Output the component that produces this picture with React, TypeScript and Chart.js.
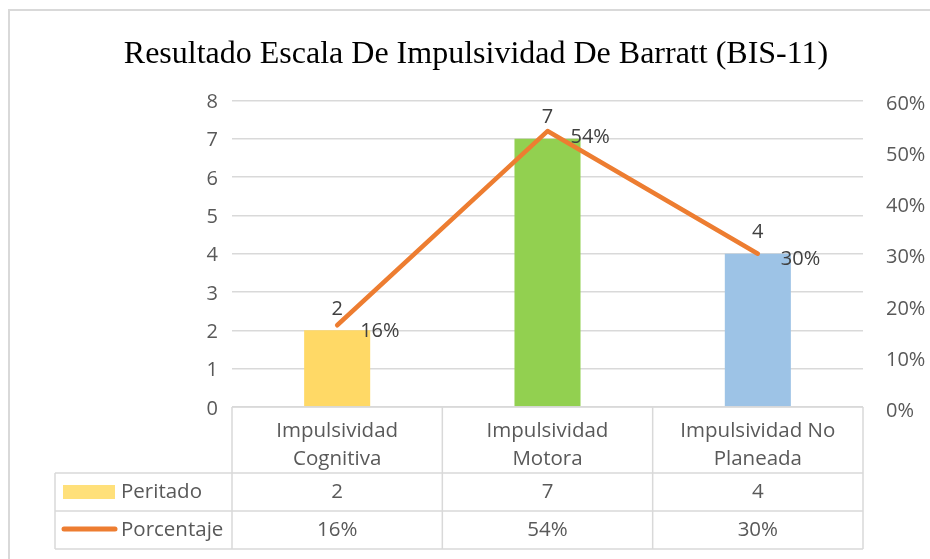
import React, { useEffect, useRef } from "react";
import { Chart, registerables } from "chart.js";

Chart.register(...registerables);

const TITLE = "Resultado Escala De Impulsividad De Barratt (BIS-11)";
const categories: string[][] = [
  ["Impulsividad", "Cognitiva"],
  ["Impulsividad", "Motora"],
  ["Impulsividad No", "Planeada"],
];
const peritadoLabel = "Peritado";
const porcentajeLabel = "Porcentaje";
const peritado = [2, 7, 4];
const porcentaje = [0.16, 0.54, 0.3];
const barColors = ["#FFD966", "#92D050", "#9DC3E6"];
const lineColor = "#ED7D31";

const FONT = "'Open Sans', 'Noto Sans', sans-serif";
const GRID = "#D9D9D9";
const TICK = "#595959";
const LABEL = "#404040";

const pct = (v: number) => Math.round(v * 100) + "%";

const framePlugin = {
  id: "frame",
  beforeDraw(chart: any) {
    const ctx = chart.ctx;
    ctx.save();
    ctx.fillStyle = "#ffffff";
    ctx.fillRect(0, 0, chart.width, chart.height);
    ctx.strokeStyle = GRID;
    ctx.lineWidth = 2;
    ctx.strokeRect(9, 10, chart.width + 20, chart.height + 20);
    ctx.restore();
  },
};

const labelPlugin = {
  id: "valueLabels",
  afterDatasetsDraw(chart: any) {
    const ctx = chart.ctx;
    ctx.save();
    ctx.font = `20px ${FONT}`;
    ctx.fillStyle = LABEL;
    ctx.textBaseline = "middle";
    const barMeta = chart.getDatasetMeta(0);
    barMeta.data.forEach((el: any, i: number) => {
      ctx.textAlign = "center";
      ctx.fillText(String(peritado[i]), el.x, el.y - 21);
    });
    const lineMeta = chart.getDatasetMeta(1);
    lineMeta.data.forEach((el: any, i: number) => {
      ctx.textAlign = "left";
      ctx.fillText(pct(porcentaje[i]), el.x + 23, el.y + 6);
    });
    ctx.restore();
  },
};

const tablePlugin = {
  id: "dataTable",
  afterDraw(chart: any) {
    const ctx = chart.ctx;
    const area = chart.chartArea;
    const xs = chart.scales.x;
    const n = categories.length;
    const colW = (area.right - area.left) / n;
    const top = area.bottom;
    const headerBottom = top + 66;
    const row1Bottom = headerBottom + 38;
    const row2Bottom = row1Bottom + 38;
    const tableLeft = area.left - 177;

    ctx.save();
    ctx.strokeStyle = GRID;
    ctx.lineWidth = 1.5;
    ctx.beginPath();
    ctx.moveTo(area.left, top);
    ctx.lineTo(area.right, top);
    [headerBottom, row1Bottom, row2Bottom].forEach((y) => {
      ctx.moveTo(tableLeft, y);
      ctx.lineTo(area.right, y);
    });
    for (let i = 0; i <= n; i++) {
      const x = area.left + i * colW;
      ctx.moveTo(x, top);
      ctx.lineTo(x, row2Bottom);
    }
    ctx.moveTo(tableLeft, headerBottom);
    ctx.lineTo(tableLeft, row2Bottom);
    ctx.stroke();

    ctx.font = `20.5px ${FONT}`;
    ctx.fillStyle = TICK;
    ctx.textBaseline = "middle";
    ctx.textAlign = "center";
    categories.forEach((lines, i) => {
      const cx = xs.getPixelForValue(i);
      lines.forEach((t, j) => {
        ctx.fillText(t, cx, top + 24 + j * 28);
      });
      ctx.fillText(String(peritado[i]), cx, (headerBottom + row1Bottom) / 2);
      ctx.fillText(pct(porcentaje[i]), cx, (row1Bottom + row2Bottom) / 2);
    });

    const r1 = (headerBottom + row1Bottom) / 2;
    const r2 = (row1Bottom + row2Bottom) / 2;
    ctx.fillStyle = "#FFE07A";
    ctx.fillRect(tableLeft + 8, r1 - 7, 52, 14);
    ctx.strokeStyle = lineColor;
    ctx.lineWidth = 5;
    ctx.lineCap = "round";
    ctx.beginPath();
    ctx.moveTo(tableLeft + 9, r2 - 1);
    ctx.lineTo(tableLeft + 60, r2 - 1);
    ctx.stroke();

    ctx.fillStyle = TICK;
    ctx.textAlign = "left";
    ctx.fillText(peritadoLabel, tableLeft + 66, r1);
    ctx.fillText(porcentajeLabel, tableLeft + 66, r2);
    ctx.restore();
  },
};

export default function App() {
  const ref = useRef<HTMLCanvasElement | null>(null);
  useEffect(() => {
    if (!ref.current) return;
    const chart = new Chart(ref.current, {
      type: "bar",
      data: {
        labels: categories.map((c) => c.join(" ")),
        datasets: [
          {
            type: "bar",
            label: peritadoLabel,
            data: peritado,
            backgroundColor: barColors,
            barPercentage: 0.314,
            categoryPercentage: 1,
            yAxisID: "y",
            order: 1,
          },
          {
            type: "line",
            label: porcentajeLabel,
            data: porcentaje,
            borderColor: lineColor,
            backgroundColor: lineColor,
            borderWidth: 4.5,
            borderCapStyle: "round",
            borderJoinStyle: "round",
            pointRadius: 0,
            yAxisID: "y1",
            order: 0,
          },
        ],
      } as any,
      options: {
        responsive: false,
        devicePixelRatio: 1,
        animation: false,
        layout: { padding: { left: 22, right: 0, top: 0, bottom: 152 } },
        plugins: {
          legend: { display: false },
          tooltip: { enabled: false },
          title: {
            display: true,
            text: TITLE,
            color: "#000000",
            font: { family: "'Liberation Serif', 'Times New Roman', serif", size: 32, weight: "normal" },
            padding: { top: 35, bottom: 27 },
          },
        },
        scales: {
          x: { display: false },
          y: {
            position: "left",
            min: 0,
            max: 8,
            ticks: { stepSize: 1, color: TICK, padding: 14, labelOffset: 2, font: { family: FONT, size: 20 } },
            grid: { color: GRID, lineWidth: 1.5, drawTicks: false },
            border: { display: false },
            afterFit: (s: any) => {
              s.width = 210;
            },
          },
          y1: {
            position: "right",
            min: 0,
            max: 0.6,
            ticks: {
              stepSize: 0.1,
              color: TICK,
              padding: 23,
              labelOffset: 4,
              font: { family: FONT, size: 20 },
              callback: (v: any) => pct(Number(v)),
            },
            grid: { display: false, drawTicks: false },
            border: { display: false },
            afterFit: (s: any) => {
              s.width = 67;
            },
          },
        },
      } as any,
      plugins: [framePlugin, labelPlugin, tablePlugin],
    });
    return () => chart.destroy();
  }, []);
  return (
    <div style={{ position: "fixed", left: 0, top: 0, width: 930, height: 559, background: "#fff" }}>
      <canvas ref={ref} width={930} height={559} style={{ display: "block" }} />
    </div>
  );
}
